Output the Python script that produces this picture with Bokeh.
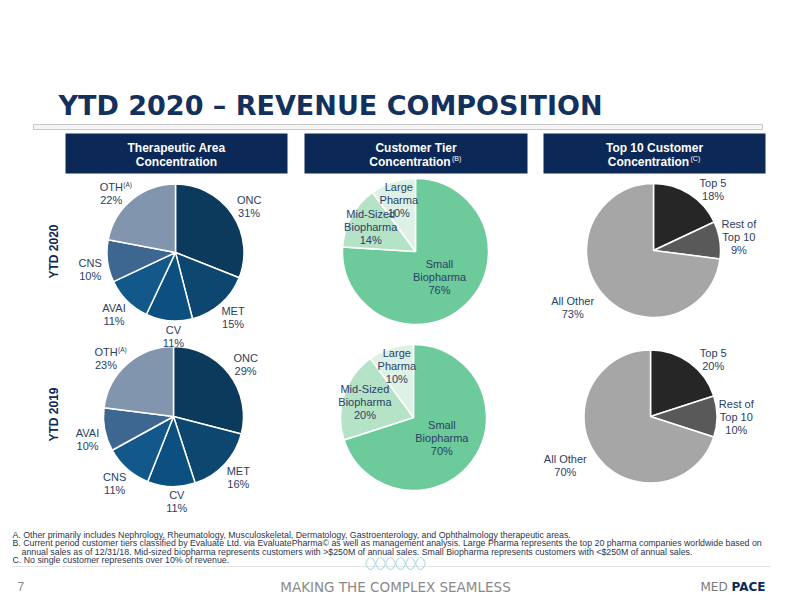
import numpy as np
from bokeh.plotting import figure
from bokeh.models import Range1d, ColumnDataSource
from bokeh.core.properties import value
from bokeh.embed import file_html
from bokeh.resources import INLINE

# ---------------- data ----------------
title_text = "YTD 2020 – REVENUE COMPOSITION"
header_line1 = ["Therapeutic Area", "Customer Tier", "Top 10 Customer"]
header_line2 = ["Concentration", "Concentration", "Concentration"]
header_sup = ["", "(B)", "(C)"]
row_labels = ["YTD 2020", "YTD 2019"]

ta_2020_labels = ["ONC", "MET", "CV", "AVAI", "CNS", "OTH"]
ta_2020_values = [31, 15, 11, 11, 10, 22]
ta_2019_labels = ["ONC", "MET", "CV", "CNS", "AVAI", "OTH"]
ta_2019_values = [29, 16, 11, 11, 10, 23]

tier_labels = ["Small\nBiopharma", "Mid-Sized\nBiopharma", "Large\nPharma"]
tier_2020_values = [76, 14, 10]
tier_2019_values = [70, 20, 10]

top10_labels = ["Top 5", "Rest of\nTop 10", "All Other"]
top10_2020_values = [18, 9, 73]
top10_2019_values = [20, 10, 70]

footnotes = [
    "A. Other primarily includes Nephrology, Rheumatology, Musculoskeletal, Dermatology, Gastroenterology, and Ophthalmology therapeutic areas.",
    "B. Current period customer tiers classified by Evaluate Ltd. via EvaluatePharma\u00a9 as well as management analysis. Large Pharma represents the top 20 pharma companies worldwide based on",
    "annual sales as of 12/31/18. Mid-sized biopharma represents customers with >$250M of annual sales. Small Biopharma represents customers with <$250M of annual sales.",
    "C. No single customer represents over 10% of revenue.",
]
footer_text = "MAKING THE COMPLEX SEAMLESS"
page_number = "7"

# ---------------- styles ----------------
NAVY = "#0b2857"
TITLE_C = "#13315c"
LABEL_C = "#2c4062"
ta_colors = ["#0c3a5d", "#0d466f", "#0c4f81", "#12588a", "#3d6791", "#8295ae"]
tier_colors = ["#6dca9a", "#b5e3c8", "#def1e6"]
top10_colors = ["#262626", "#595959", "#a6a6a6"]
FONT = value("Liberation Sans")

W, H = 776, 596
# data coordinates: x = picture pixel x, y = 612 - picture pixel y
p = figure(width=W, height=H, x_range=Range1d(0, 776), y_range=Range1d(16, 612),
           output_backend="svg", toolbar_location=None, min_border=0,
           x_axis_location=None, y_axis_location=None, outline_line_color=None,
           background_fill_color="white", border_fill_color="white")
p.xgrid.visible = False
p.ygrid.visible = False


def Y(yp):
    return 612 - np.asarray(yp, dtype=float)


def txt(x, y, s, size="11px", color=LABEL_C, align="center", baseline="middle",
        bold=False, font=FONT, angle=0.0):
    p.text(x=[x], y=[float(Y(y))], text=[s], text_font=font, text_font_size=size,
           text_color=color, text_align=align, text_baseline=baseline,
           text_font_style="bold" if bold else "normal", angle=angle)


# ---------------- title & header ----------------
txt(58, 105, title_text, size="27px", color=TITLE_C, align="left", bold=True,
    font=value("DejaVu Sans"))
p.quad(left=[33], right=[762], top=[float(Y(124))], bottom=[float(Y(129))],
       fill_color="#f5f5f5", line_color="#c8c8c8", line_width=1)

box_left = [65, 304, 543]
box_right = [287, 527, 765]
p.quad(left=box_left, right=box_right, top=[float(Y(133))] * 3, bottom=[float(Y(173))] * 3,
       fill_color=NAVY, line_color=None)
for i in range(3):
    bx = (box_left[i] + box_right[i]) / 2
    txt(bx, 147, header_line1[i], size="12px", color="white", bold=True)
    if header_sup[i]:
        txt(bx - 6, 161, header_line2[i], size="12px", color="white", bold=True)
        txt(bx - 6 + 42, 158, header_sup[i], size="7px", color="white", align="left")
    else:
        txt(bx, 161, header_line2[i], size="12px", color="white", bold=True)

txt(53, 251, row_labels[0], size="12px", color=NAVY, bold=True, angle=np.pi / 2)
txt(53, 414, row_labels[1], size="12px", color=NAVY, bold=True, angle=np.pi / 2)


# ---------------- pies ----------------
label_xs, label_ys, label_ts = [], [], []
sup_xs, sup_ys = [], []


def pie(cx, cy, r, labels, values, colors, lab_f, lab_shift, sup_label=None):
    vals = np.asarray(values, dtype=float)
    frac = vals / vals.sum()
    cum = np.concatenate([[0.0], np.cumsum(frac)])
    src = ColumnDataSource(dict(
        start=np.pi / 2 - 2 * np.pi * cum[:-1],
        end=np.pi / 2 - 2 * np.pi * cum[1:],
        color=list(colors[:len(vals)]),
    ))
    p.wedge(x=cx, y=float(Y(cy)), radius=r, start_angle="start", end_angle="end",
            direction="clock", fill_color="color", line_color="white", line_width=1.5,
            source=src)
    mid = 2 * np.pi * (cum[:-1] + cum[1:]) / 2 + np.radians(lab_shift)
    lx = cx + np.asarray(lab_f) * r * np.sin(mid)
    ly = cy - np.asarray(lab_f) * r * np.cos(mid)
    for k, (name, v) in enumerate(zip(labels, values)):
        lines = name.split("\n") + [f"{v}%"]
        n = len(lines)
        for j, line in enumerate(lines):
            yy = ly[k] + (j - (n - 1) / 2) * 13
            label_xs.append(float(lx[k]))
            label_ys.append(float(Y(yy)))
            label_ts.append(line)
            if sup_label is not None and name == sup_label and j == 0:
                sup_xs.append(float(lx[k] + 12))
                sup_ys.append(float(Y(yy - 3)))


ta_f = [1.27, 1.27, 1.22, 1.27, 1.27, 1.27]
ta_shift = [2, 0, -4, 0, -4, -8]
pie(175, 252, 68.5, ta_2020_labels, ta_2020_values, ta_colors, ta_f, ta_shift, sup_label="OTH")
pie(173, 416, 70, ta_2019_labels, ta_2019_values, ta_colors, ta_f, ta_shift, sup_label="OTH")

tier_f = [0.48, 0.70, 0.74]
tier_shift = [0, 0, 0]
pie(415, 251, 73, tier_labels, tier_2020_values, tier_colors, tier_f, tier_shift)
pie(413, 417, 73, tier_labels, tier_2019_values, tier_colors, tier_f, tier_shift)

top_f = [1.27, 1.29, 1.48]
top_shift = [12, 0, 6]
pie(653, 250, 67, top10_labels, top10_2020_values, top10_colors, top_f, top_shift)
pie(650, 416, 66.5, top10_labels, top10_2019_values, top10_colors, top_f, top_shift)

# labels drawn after all wedges
p.text(x=label_xs, y=label_ys, text=label_ts, text_font=FONT, text_font_size="11px",
       text_color=LABEL_C, text_align="center", text_baseline="middle")
p.text(x=sup_xs, y=sup_ys, text=["(A)"] * len(sup_xs), text_font=FONT,
       text_font_size="6.5px", text_color=LABEL_C, text_align="left", text_baseline="middle")

# ---------------- footnotes ----------------
fn_x = [12, 12, 21, 12]
fn_y = [534, 542.5, 551, 559.5]
p.text(x=fn_x, y=list(Y(fn_y)), text=footnotes, text_font=FONT, text_font_size="8.8px",
       text_color="#2a3550", text_align="left", text_baseline="middle")

# separator with small helix ornament
p.line(x=[12, 770], y=[float(Y(566))] * 2, line_color="#e4e4e4", line_width=1)
hx0 = [365, 375, 385, 395, 405, 415]
sgn = [1, -1, 1, -1, 1, -1]
for s_dir in (1, -1):
    p.bezier(x0=hx0, y0=[float(Y(563))] * 6,
             x1=[h + 10 for h in hx0], y1=[float(Y(563))] * 6,
             cx0=[h + 3.3 for h in hx0], cy0=[float(Y(563 - 8 * s * s_dir)) for s in sgn],
             cx1=[h + 6.7 for h in hx0], cy1=[float(Y(563 - 8 * s * s_dir)) for s in sgn],
             line_color="#b9dde6", line_width=1.2)

# ---------------- footer ----------------
txt(17, 586, page_number, size="12px", color="#8a8a8a", align="left")
txt(395, 586, footer_text, size="13.5px", color="#8a8a8a", font=value("DejaVu Sans"))
txt(700, 586, "MED", size="12px", color="#7a7a7a", align="left", font=value("DejaVu Sans"))
txt(731, 586, "PACE", size="12px", color=NAVY, align="left", bold=True, font=value("DejaVu Sans"))

open("out.html", "w").write(file_html(p, INLINE))
